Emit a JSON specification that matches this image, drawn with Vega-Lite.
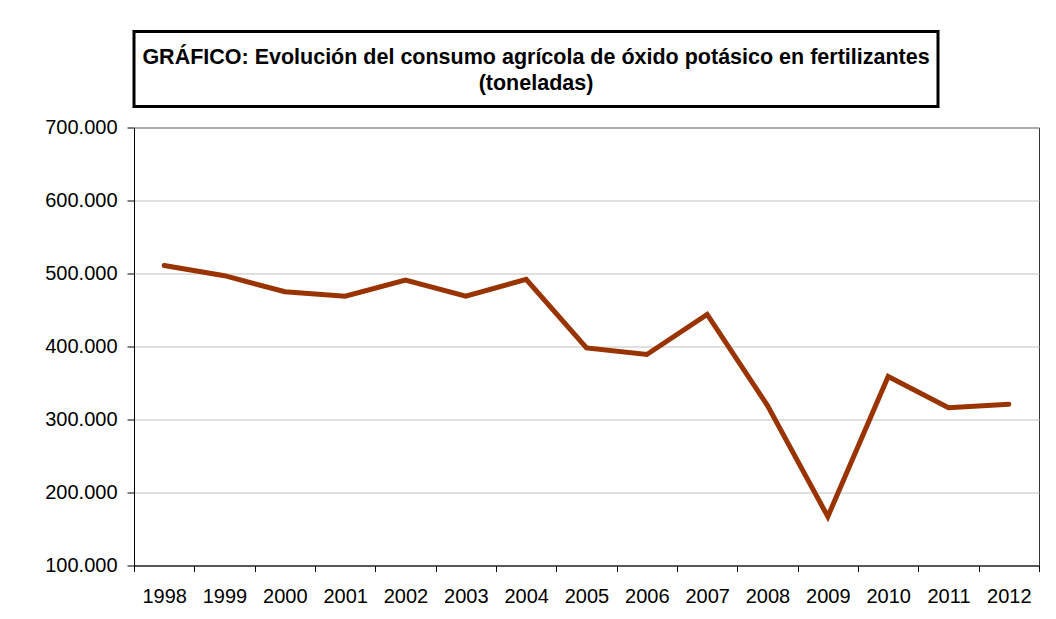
{
  "$schema": "https://vega.github.io/schema/vega-lite/v6.json",
  "background": "white",
  "padding": {"left": 44, "top": 29.5, "right": 16, "bottom": 8},
  "bounds": "flush",
  "spacing": 21,
  "datasets": {
    "consumo": [
      {"anio": "1998", "toneladas": 511000},
      {"anio": "1999", "toneladas": 497000},
      {"anio": "2000", "toneladas": 475000},
      {"anio": "2001", "toneladas": 469000},
      {"anio": "2002", "toneladas": 491000},
      {"anio": "2003", "toneladas": 469000},
      {"anio": "2004", "toneladas": 492000},
      {"anio": "2005", "toneladas": 398000},
      {"anio": "2006", "toneladas": 389000},
      {"anio": "2007", "toneladas": 444000},
      {"anio": "2008", "toneladas": 319000},
      {"anio": "2009", "toneladas": 167000},
      {"anio": "2010", "toneladas": 359000},
      {"anio": "2011", "toneladas": 316000},
      {"anio": "2012", "toneladas": 321000}
    ],
    "titulo": [
      {"texto": ["GRÁFICO: Evolución del consumo agrícola de óxido potásico en fertilizantes", "(toneladas)"]}
    ]
  },
  "vconcat": [
    {
      "width": 804,
      "height": 75,
      "view": {"stroke": "#000000", "strokeWidth": 3, "fill": "white"},
      "data": {"name": "titulo"},
      "mark": {
        "type": "text",
        "font": "Liberation Sans",
        "fontWeight": "bold",
        "fontSize": 21.5,
        "lineHeight": 26,
        "align": "center",
        "baseline": "middle",
        "color": "#000000",
        "dy": -11.5
      },
      "encoding": {
        "text": {"field": "texto"}
      }
    },
    {
      "width": 905,
      "height": 438,
      "view": {"stroke": "#333333", "strokeWidth": 1, "fill": "white"},
      "data": {"name": "consumo"},
      "mark": {
        "type": "line",
        "color": "#993300",
        "strokeWidth": 5,
        "strokeCap": "round"
      },
      "encoding": {
        "x": {
          "field": "anio",
          "type": "ordinal",
          "scale": {"type": "band", "paddingInner": 0, "paddingOuter": 0},
          "axis": {
            "title": null,
            "labelAngle": 0,
            "tickBand": "extent",
            "tickSize": 6,
            "labelPadding": 15,
            "grid": false
          }
        },
        "y": {
          "field": "toneladas",
          "type": "quantitative",
          "scale": {"domain": [100000, 700000], "zero": false, "nice": false},
          "axis": {
            "title": null,
            "values": [100000, 200000, 300000, 400000, 500000, 600000, 700000],
            "format": ",.0f",
            "tickSize": 7,
            "labelPadding": 10,
            "grid": true,
            "gridColor": "#c0c0c0",
            "gridWidth": 1
          }
        }
      }
    }
  ],
  "config": {
    "locale": {
      "number": {"decimal": ",", "thousands": ".", "grouping": [3], "currency": ["", " €"]}
    },
    "font": "Liberation Sans",
    "axis": {
      "labelFont": "Liberation Sans",
      "labelFontSize": 20,
      "labelColor": "#000000",
      "domainColor": "#000000",
      "domainWidth": 1,
      "tickColor": "#000000",
      "tickWidth": 1
    }
  }
}
